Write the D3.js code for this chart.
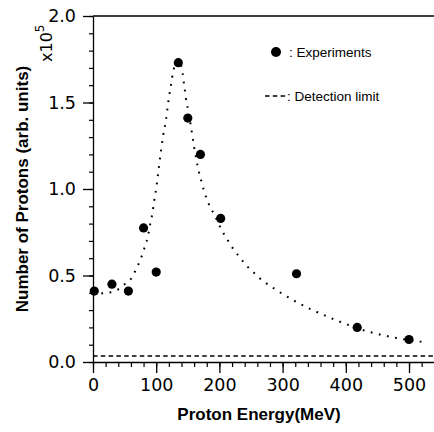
<!DOCTYPE html>
<html>
<head>
<meta charset="utf-8">
<script src="https://cdn.jsdelivr.net/npm/d3@7"></script>
<style>
  html, body { margin: 0; padding: 0; background: #fff; }
  svg { display: block; }
</style>
</head>
<body>
<svg id="chart" width="434" height="432"></svg>
<script>
// ---- data ----
const energies = [2, 30, 56, 80, 100, 135, 150, 170, 202, 322, 418, 500];
const protons  = [0.41, 0.45, 0.41, 0.775, 0.52, 1.73, 1.41, 1.20, 0.83, 0.51, 0.20, 0.13];

const fitEnergy  = [0, 15, 28, 40, 50, 60, 66, 72, 77, 81, 85, 88, 90.5, 93, 95, 97, 99, 101, 104, 107.5, 111, 115.5, 119, 123, 127.5, 134.5,
                    141, 144.5, 148, 151, 155, 159, 162, 166, 172.5, 180, 185, 191.5, 202.5, 209, 216, 223, 231, 239, 248, 258, 267, 278, 289,
                    300, 312, 323, 334, 346, 358, 370, 382, 394, 407, 432, 444, 457, 470, 483, 521, 525];
const fitProtons = [0.395, 0.397, 0.403, 0.42, 0.449, 0.48, 0.52, 0.566, 0.61, 0.655, 0.70, 0.747, 0.796, 0.84, 0.886, 0.935, 0.981, 1.03, 1.12, 1.218, 1.308, 1.40, 1.50, 1.594, 1.688, 1.745,
                    1.688, 1.594, 1.50, 1.45, 1.36, 1.264, 1.20, 1.125, 1.03, 0.942, 0.898, 0.855, 0.771, 0.728, 0.688, 0.647, 0.611, 0.574, 0.538, 0.505, 0.474, 0.445, 0.419,
                    0.393, 0.368, 0.345, 0.324, 0.302, 0.283, 0.264, 0.245, 0.228, 0.21, 0.179, 0.168, 0.156, 0.146, 0.137, 0.116, 0.114];

const detectionLimit = 0.035;
const xTickValues = [0, 100, 200, 300, 400, 500];
const yTickValues = [0.0, 0.5, 1.0, 1.5, 2.0];
const xLabel = "Proton Energy(MeV)";
const yLabel = "Number of Protons (arb. units)";
const legendLabels = [": Experiments", ": Detection limit"];

// ---- layout ----
const svg = d3.select("#chart");
const mLeft = 93, mRight = 434.3, mTop = 16, mBottom = 362;

const x = d3.scaleLinear().domain([0, 540]).range([mLeft, mRight]);
const y = d3.scaleLinear().domain([0, 2.0]).range([mBottom, mTop]);

const tickFont = "'DejaVu Sans', sans-serif";
const labFont = "'Liberation Sans', Arial, sans-serif";

// minor x ticks
const xMinor = d3.range(0, 541, 20);
svg.append("g").attr("transform", `translate(0,${mBottom})`)
  .call(d3.axisBottom(x).tickValues(xMinor).tickSize(5).tickSizeOuter(0).tickFormat(""))
  .call(g => g.select(".domain").remove())
  .call(g => g.selectAll("line").attr("stroke", "#000").attr("stroke-width", 1.2));

// major x ticks
svg.append("g").attr("transform", `translate(0,${mBottom})`)
  .call(d3.axisBottom(x).tickValues(xTickValues).tickSize(11).tickSizeOuter(0).tickPadding(6).tickFormat(d3.format("d")))
  .call(g => g.select(".domain").attr("stroke", "#000").attr("stroke-width", 1.3))
  .call(g => g.selectAll("line").attr("stroke", "#000").attr("stroke-width", 1.3))
  .call(g => g.selectAll("text").attr("font-family", tickFont).attr("font-size", 17.5).attr("fill", "#000"));

// minor y ticks
const yMinor = d3.range(0, 2.01, 0.1);
svg.append("g").attr("transform", `translate(${mLeft},0)`)
  .call(d3.axisLeft(y).tickValues(yMinor).tickSize(4).tickSizeOuter(0).tickFormat(""))
  .call(g => g.select(".domain").remove())
  .call(g => g.selectAll("line").attr("stroke", "#000").attr("stroke-width", 1.2));

// major y ticks
svg.append("g").attr("transform", `translate(${mLeft},0)`)
  .call(d3.axisLeft(y).tickValues(yTickValues).tickSize(10).tickSizeOuter(0).tickPadding(7).tickFormat(d3.format(".1f")))
  .call(g => g.select(".domain").attr("stroke", "#000").attr("stroke-width", 1.3))
  .call(g => g.selectAll("line").attr("stroke", "#000").attr("stroke-width", 1.3))
  .call(g => g.selectAll("text").attr("font-family", tickFont).attr("font-size", 17.5).attr("fill", "#000"));

// top frame line
svg.append("line").attr("x1", mLeft).attr("x2", mRight).attr("y1", y(2.0)).attr("y2", y(2.0))
  .attr("stroke", "#000").attr("stroke-width", 1.5);

// detection limit
svg.append("line").attr("x1", mLeft).attr("x2", mRight)
  .attr("y1", y(detectionLimit)).attr("y2", y(detectionLimit))
  .attr("stroke", "#000").attr("stroke-width", 1.4).attr("stroke-dasharray", "4.5,3.3");

// fitted dotted curve
const fitData = fitEnergy.map((e, i) => [e, fitProtons[i]]);
svg.append("path").datum(fitData)
  .attr("fill", "none").attr("stroke", "#000").attr("stroke-width", 2)
  .attr("stroke-dasharray", "1.8,6.5")
  .attr("d", d3.line().x(d => x(d[0])).y(d => y(d[1])).curve(d3.curveMonotoneX));

// experiment points
svg.append("g").selectAll("circle").data(energies.map((e, i) => [e, protons[i]]))
  .join("circle")
  .attr("cx", d => x(d[0])).attr("cy", d => y(d[1])).attr("r", 4.6).attr("fill", "#000");

// axis titles
svg.append("text").attr("x", 259).attr("y", 420).attr("text-anchor", "middle")
  .attr("font-family", labFont).attr("font-weight", "bold").attr("font-size", 17)
  .text(xLabel);
svg.append("text").attr("transform", `translate(28,${(mTop + mBottom) / 2}) rotate(-90)`)
  .attr("text-anchor", "middle")
  .attr("font-family", labFont).attr("font-weight", "bold").attr("font-size", 17)
  .text(yLabel);

// x10^5 multiplier
const mult = svg.append("text").attr("transform", "translate(52,62) rotate(-90)")
  .attr("font-family", tickFont).attr("font-size", 16);
mult.append("tspan").text("x10");
mult.append("tspan").attr("dy", -8).attr("font-size", 12).text("5");

// legend
svg.append("circle").attr("cx", 276).attr("cy", 52).attr("r", 5).attr("fill", "#000");
svg.append("text").attr("x", 289).attr("y", 52).attr("dominant-baseline", "central")
  .attr("font-family", labFont).attr("font-size", 13.5).text(legendLabels[0]);
svg.append("line").attr("x1", 265).attr("x2", 287).attr("y1", 96).attr("y2", 96)
  .attr("stroke", "#000").attr("stroke-width", 1.4).attr("stroke-dasharray", "4.5,3.3");
svg.append("text").attr("x", 287).attr("y", 96).attr("dominant-baseline", "central")
  .attr("font-family", labFont).attr("font-size", 13.5).text(legendLabels[1]);
</script>
</body>
</html>
